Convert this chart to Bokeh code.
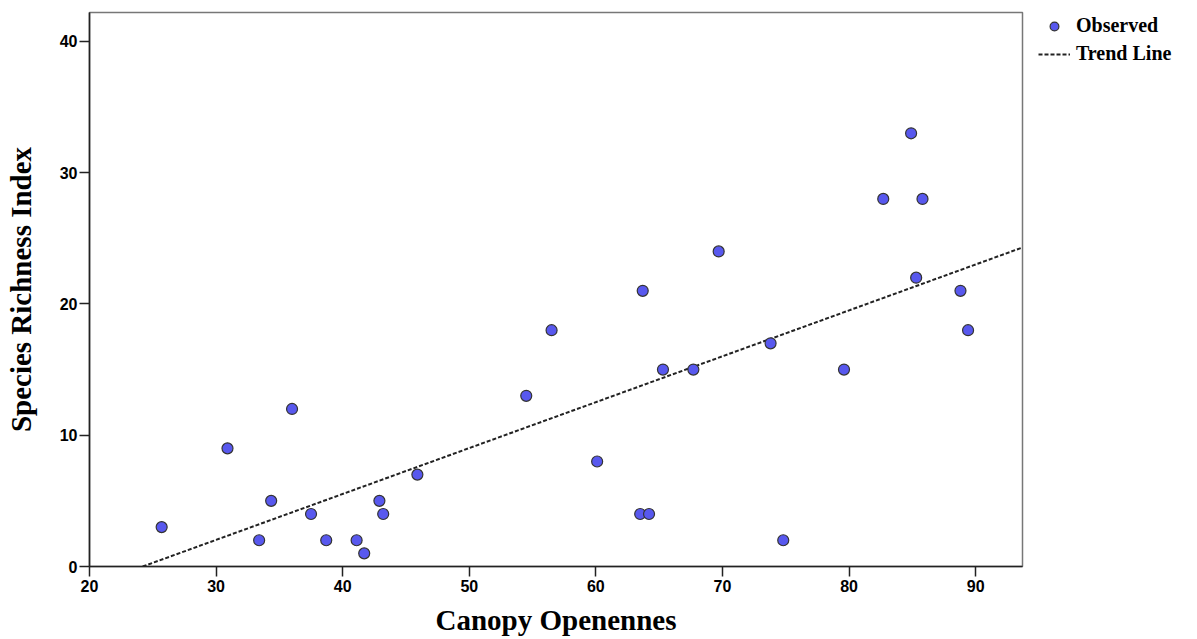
from bokeh.plotting import figure
from bokeh.models import Legend, LegendItem, Range1d, FixedTicker, ColumnDataSource
from bokeh.embed import file_html
from bokeh.resources import INLINE

canopy = [25.7, 30.9, 33.4, 34.35, 36.0, 37.5, 38.7, 41.1, 41.7, 42.9, 43.2, 45.9,
          54.5, 56.5, 60.1, 63.5, 64.2, 63.7, 65.3, 67.7, 69.7, 73.8,
          74.8, 79.6, 84.9, 82.7, 85.8, 85.3, 88.8, 89.4]
richness = [3, 9, 2, 5, 12, 4, 2, 2, 1, 5, 4, 7,
            13, 18, 8, 4, 4, 21, 15, 15, 24, 17,
            2, 15, 33, 28, 28, 22, 21, 18]

# Trend line end points
trend_x = [24.2, 93.7]
trend_y = [0.0, 24.3]

x_ticks = [20, 30, 40, 50, 60, 70, 80, 90]
y_ticks = [0, 10, 20, 30, 40]

p = figure(frame_width=933, frame_height=554, output_backend="svg", toolbar_location=None,
           x_range=Range1d(20, 93.7), y_range=Range1d(0, 42.2),
           min_border_left=89, min_border_right=175, min_border_top=12, min_border_bottom=73)

p.background_fill_color = "white"
p.border_fill_color = "white"
p.outline_line_color = "#777777"
p.outline_line_width = 1.5
p.xgrid.visible = False
p.ygrid.visible = False

trend = p.line(trend_x, trend_y, line_color="#222222", line_width=2, line_dash="4 2")
src = ColumnDataSource(dict(x=canopy, y=richness))
obs = p.scatter("x", "y", source=src, size=11, fill_color="#5858EE", line_color="#333333", line_width=1.2)

for ax in (p.xaxis[0], p.yaxis[0]):
    ax.axis_line_color = "#222222"
    ax.axis_line_width = 1.6
    ax.major_tick_line_color = "#222222"
    ax.major_tick_line_width = 1.5
    ax.major_tick_in = 0
    ax.major_tick_out = 10
    ax.minor_tick_line_color = None
    ax.major_label_text_font = "Liberation Sans"
    ax.major_label_text_font_style = "bold"
    ax.major_label_text_font_size = "16px"
    ax.major_label_text_color = "black"
    ax.axis_label_text_font = "Liberation Serif"
    ax.axis_label_text_font_style = "bold"
    ax.axis_label_text_font_size = "29px"
    ax.axis_label_text_color = "black"

p.xaxis.ticker = FixedTicker(ticks=x_ticks)
p.yaxis.ticker = FixedTicker(ticks=y_ticks)
p.xaxis.axis_label = "Canopy Openennes"
p.yaxis.axis_label = "Species Richness Index"
p.xaxis.major_label_standoff = 3
p.yaxis.major_label_standoff = 2
p.xaxis.axis_label_standoff = 9
p.yaxis.axis_label_standoff = 20

legend = Legend(items=[LegendItem(label="Observed", renderers=[obs]),
                       LegendItem(label="Trend Line", renderers=[trend])],
                location=(16, 501), margin=0, padding=0, spacing=5,
                glyph_width=32, glyph_height=22, label_height=22, label_standoff=6,
                label_text_font="Liberation Serif", label_text_font_style="bold",
                label_text_font_size="20px", label_text_color="black",
                border_line_color=None, background_fill_alpha=0)
p.add_layout(legend, "right")

open("out.html", "w").write(file_html(p, INLINE))
